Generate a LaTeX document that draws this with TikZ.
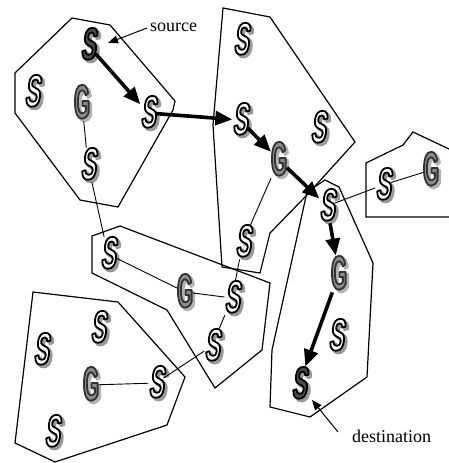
\documentclass[tikz,border=0pt]{standalone}
\usepackage{fontspec}
\setmainfont{Liberation Serif}
\usetikzlibrary{arrows.meta}
% condensed block letters for the node glyphs
\newfontfamily\sglyphfont{Liberation Sans Bold}[FakeStretch=0.5,FakeSlant=0.14]
\newfontfamily\gglyphfont{Liberation Sans Bold}[FakeStretch=0.42]
% letter drawn in PDF text mode 2 (fill and stroke): #1 letter, #2 fill gray, #3 stroke gray, #4 shadow gray
\newcommand\outlined[4]{%
  \makebox[0pt][l]{\hspace*{2.4pt}\raisebox{-2.4pt}{\special{pdf:code q #4 g #4 G 2 Tr 1 j 2.4 w}#1\special{pdf:code Q}}}%
  \special{pdf:code q #2 g #3 G 2 Tr 1 j 1.8 w}#1\special{pdf:code Q}}
\newcommand\Sw{\outlined{S}{1}{0}{0.6}}
\newcommand\Sd{\outlined{S}{0.3}{0}{0.6}}
\newcommand\Gg{\outlined{G}{0.55}{0.2}{0.7}}
\tikzset{
  snode/.style={inner sep=0pt, font=\sglyphfont\fontsize{45}{45}\selectfont},
  gnode/.style={inner sep=0pt, font=\gglyphfont\fontsize{48}{48}\selectfont},
  region/.style={line width=1.2pt, line join=miter},
  link/.style={line width=0.9pt},
  route/.style={line width=3.6pt, -{Triangle[length=17pt,width=14pt]}},
  pointer/.style={line width=1pt, -{Triangle[length=10pt,width=8pt]}},
  caption/.style={font=\fontsize{18}{18}\selectfont, inner sep=0pt}
}
\begin{document}
\begin{tikzpicture}[x=1pt,y=-1pt]
\useasboundingbox (0,0) rectangle (449,463);
\clip (0,0) rectangle (449,463);

% clusters
\draw[region] (15,73) -- (72,18) -- (110,25) -- (175,101) -- (173,110) -- (118,207) -- (80,200) -- (15,113) -- cycle;
\draw[region] (223,8) -- (270,17) -- (355,142) -- (307,195) -- (270,233) -- (260,273) -- (222,267) -- (213,125) -- cycle;
\draw[region] (92,236) -- (120,226) -- (270,283) -- (262,350) -- (215,388) -- (167,310) -- (92,273) -- cycle;
\draw[region] (307,192) -- (325,180) -- (339,187) -- (373,263) -- (367,377) -- (310,417) -- (270,407) -- (272,350) -- cycle;
\draw[region] (366,217) -- (366,163) -- (403,145) -- (413,132) -- (449,149) -- (460,155) -- (460,217) -- cycle;
\draw[region] (33,292) -- (118,302) -- (185,377) -- (167,425) -- (55,462) -- (15,443) -- cycle;

% nodes
\node[snode] (a1) at (88,45)  {\Sd};
\node[snode] (a2) at (32,92)  {\Sw};
\node[gnode] (a3) at (82,103) {\Gg};
\node[snode] (a4) at (148,113) {\Sw};
\node[snode] (a5) at (88,165) {\Sw};
\node[snode] (b1) at (241,40) {\Sw};
\node[snode] (b2) at (240,120) {\Sw};
\node[snode] (b3) at (318,128) {\Sw};
\node[gnode] (b4) at (279,160) {\Gg};
\node[snode] (b5) at (243,242) {\Sw};
\node[snode] (c1) at (108,254) {\Sw};
\node[gnode] (c2) at (185,292) {\Gg};
\node[snode] (c3) at (232,298) {\Sw};
\node[snode] (c4) at (212,346) {\Sw};
\node[snode] (d1) at (327,206) {\Sw};
\node[gnode] (d2) at (339,274) {\Gg};
\node[snode] (d3) at (336,336) {\Sw};
\node[snode] (d4) at (299,384) {\Sd};
\node[snode] (e1) at (383,185) {\Sw};
\node[gnode] (e2) at (431,170) {\Gg};
\node[snode] (f1) at (41,350) {\Sw};
\node[snode] (f2) at (98,328) {\Sw};
\node[gnode] (f3) at (91,385) {\Gg};
\node[snode] (f4) at (156,383) {\Sw};
\node[snode] (f5) at (52,432) {\Sw};

% links
\draw[link] (a3) -- (a5);
\draw[link] (a5) -- (c1);
\draw[link] (c1) -- (c2);
\draw[link] (c2) -- (c3);
\draw[link] (c3) -- (b5);
\draw[link] (b5) -- (b4);
\draw[link] (c3) -- (c4);
\draw[link] (c4) -- (f4);
\draw[link] (f4) -- (f3);
\draw[link] (d1) -- (e1);
\draw[link] (e1) -- (e2);

% route from source to destination
\draw[route] (a1) -- (a4);
\draw[route] (a4) -- (b2);
\draw[route] (b2) -- (b4);
\draw[route] (b4) -- (d1);
\draw[route] (d1) -- (d2);
\draw[route] (d2) -- (d4);

% captions
\node[caption, anchor=west] (srclbl) at (150,27) {source};
\coordinate (srctip) at (108,43);
\coordinate (srcfoot) at (147,28);
\draw[pointer] (srcfoot) -- (srctip);
\node[caption, anchor=west] (dstlbl) at (352,436) {destination};
\coordinate (dsttip) at (312,400);
\coordinate (dstfoot) at (338,432);
\draw[pointer] (dstfoot) -- (dsttip);
\end{tikzpicture}
\end{document}
